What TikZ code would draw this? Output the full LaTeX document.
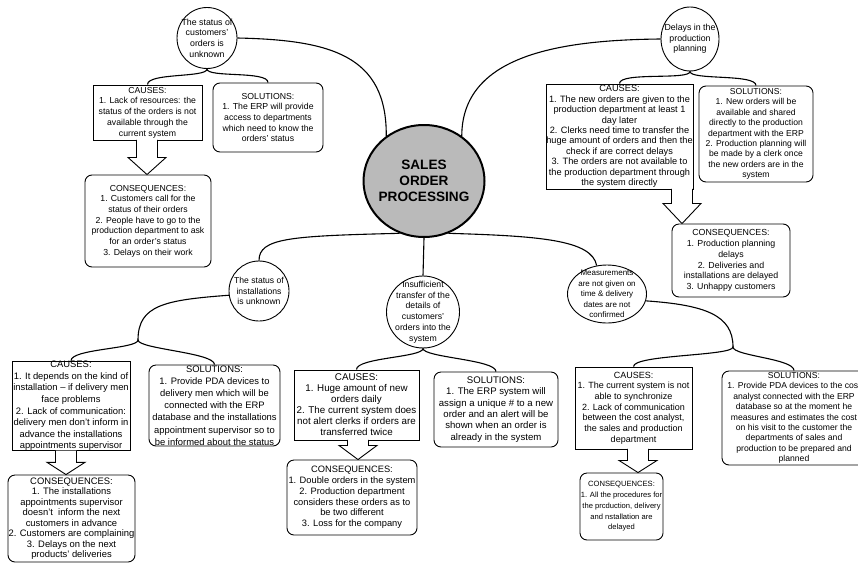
\documentclass[tikz,border=0pt]{standalone}
\usepackage{fontspec}
\setmainfont{Liberation Sans}
\usetikzlibrary{shapes.geometric,calc}

\tikzset{
  fs/.style 2 args={font=\fontsize{#1}{#2}\selectfont},
  wh/.style 2 args={minimum width=#1pt, minimum height=#2pt},
  causebox/.style={draw, line width=0.9pt, align=center, inner sep=0pt},
  solbox/.style={causebox, rounded corners=7pt},
  issue/.style={draw, ellipse, line width=0.9pt, inner sep=0pt},
  hub/.style={draw, ellipse, line width=2pt, fill=black!27, inner sep=0pt},
  link/.style={line width=1.1pt},
  fatarrow/.style={line width=0.9pt, fill=white},
}

\begin{document}
\begin{tikzpicture}[x=1pt, y=-1pt]
\clip (0,0) rectangle (858,565);

\node[hub, wh={121}{112},
      label={[align=center, font=\fontsize{13.6}{16}\selectfont\bfseries]center:SALES\\ORDER\\PROCESSING}] (core) at (424,181) {};

% the five problems
\node[issue, wh={60}{61}, label={[align=center, fs={8.8}{10.6}]center:The status of\\customers'\\orders is\\unknown}] (iss1) at (207,38) {};
\node[issue, wh={58}{64}, label={[align=center, fs={8.8}{10.5}]center:Delays in the\\production\\planning}] (iss2) at (690,39) {};
\node[issue, wh={60}{60}, label={[align=center, fs={8.6}{10.4}]center:The status of\\installations\\is unknown}] (iss3) at (259,291) {};
\node[issue, wh={73}{72}, label={[align=center, fs={8.7}{10.7}]center:Insufficient\\transfer of the\\details of\\customers'\\orders into the\\system}] (iss4) at (423,312) {};
\node[issue, wh={79}{58}, label={[align=center, fs={8}{10.6}]center:Measurements\\are not given on\\time \& delivery\\dates are not\\confirmed}] (iss5) at (607,294) {};

% top left
\node[causebox, fs={8.7}{10.7}, wh={109}{55}] (c1) at (147.5,112.5)
  {CAUSES:\\1. Lack of resources: the\\status of the orders is not\\available through the\\current system};
\node[solbox, fs={8.7}{10.7}, wh={110}{69}] (s1) at (268,117.5)
  {SOLUTIONS:\\1. The ERP will provide\\access to departments\\which need to know the\\orders' status};
\node[solbox, fs={8.7}{10.7}, wh={126}{92}] (q1) at (148,221)
  {CONSEQUENCES:\\1. Customers call for the\\status of their orders\\2. People have to go to the\\production department to ask\\for an order's status\\3. Delays on their work};

% top right
\node[causebox, fs={9.2}{10.4}, wh={147}{105}] (c2) at (619.5,136.5)
  {CAUSES:\\1. The new orders are given to the\\production department at least 1\\day later\\2. Clerks need time to transfer the\\huge amount of orders and then the\\check if are correct delays\\3. The orders are not available to\\the production department through\\the system directly};
\node[solbox, fs={8.6}{10.4}, wh={114}{96}] (s2) at (756,134)
  {SOLUTIONS:\\1. New orders will be\\available and shared\\directly to the production\\department with the ERP\\2. Production planning will\\be made by a clerk once\\the new orders are in the\\system};
\node[solbox, fs={8.8}{10.7}, wh={118}{73}] (q2) at (731,260.5)
  {CONSEQUENCES:\\1. Production planning\\delays\\2. Deliveries and\\installations are delayed\\3. Unhappy customers};

% bottom left
\node[causebox, fs={9.4}{11.6}, wh={118}{86}] (c3) at (71,406)
  {CAUSES:\\1. It depends on the kind of\\installation – if delivery men\\face problems\\2. Lack of communication:\\delivery men don't inform in\\advance the installations\\appointments supervisor};
\node[solbox, fs={9.4}{12.2}, wh={131}{81}] (s3) at (214.5,405.5)
  {SOLUTIONS:\\1. Provide PDA devices to\\delivery men which will be\\connected with the ERP\\database and the installations\\appointment supervisor so to\\be informed about the status};
\node[solbox, fs={9.4}{10.5}, wh={127}{87}] (q3) at (71.5,518.5)
  {CONSEQUENCES:\\1. The installations\\appointments supervisor\\doesn't\ \ inform the next\\customers in advance\\2. Customers are complaining\\3. Delays on the next\\products' deliveries};

% bottom middle
\node[causebox, fs={9.8}{11}, wh={125}{70}] (c4) at (356.5,405)
  {CAUSES:\\1. Huge amount of new\\orders daily\\2. The current system does\\not alert clerks if orders are\\transferred twice};
\node[solbox, fs={9.6}{11.3}, wh={124}{75}] (s4) at (496,409.5)
  {SOLUTIONS:\\1. The ERP system will\\assign a unique \# to a new\\order and an alert will be\\shown when an order is\\already in the system};
\node[solbox, fs={9.3}{10.8}, wh={130}{75}] (q4) at (352,497.5)
  {CONSEQUENCES:\\1. Double orders in the system\\2. Production department\\considers these orders as to\\be two different\\3. Loss for the company};

% bottom right
\node[causebox, fs={9}{10.7}, wh={117}{82}] (c5) at (633.5,408)
  {CAUSES:\\1. The current system is not\\able to synchronize\\2. Lack of communication\\between the cost analyst,\\the sales and production\\department};
\node[solbox, fs={8.6}{10.4}, wh={144}{94}] (s5) at (794,418)
  {SOLUTIONS:\\1. Provide PDA devices to the cost\\analyst connected with the ERP\\database so at the moment he\\measures and estimates the cost\\on his visit to the customer the\\departments of sales and\\production to be prepared and\\planned};
\node[solbox, fs={7.6}{10.8}, wh={83}{67}] (q5) at (621.5,506.5)
  {CONSEQUENCES:\\1. All the procedures for\\the prcduction, delivery\\and nstallation are\\delayed};

% links to the centre
\draw[link] (iss1.east) .. controls (330,40) and (387,55) .. (core.130);
\draw[link] (iss2.west) .. controls (560,40) and (462,55) .. (core.50);
\draw[link] (iss3.north) .. controls (259,238) and (290,236) .. (core.245);
\draw[link] (core.south) -- (iss4.north);
\draw[link] (iss5.110) .. controls (592,240) and (540,236) .. (core.295);

% splits into causes and solutions
\coordinate (b3) at (138,340);
\coordinate (b5) at (733,347);
\draw[link] (iss3.188) .. controls (165,300) and (138,305) .. (b3);
\draw[link] (iss5.350) .. controls (705,305) and (733,315) .. (b5);
\foreach \i/\a/\b in {iss1.south/c1/s1, iss2.south/c2/s2, b3/c3/s3, iss4.south/c4/s4, b5/c5/s5}
  \draw[link] (\a.north) .. controls +(0,-12) and +(0,9) .. (\i)
              .. controls +(0,9) and +(0,-12) .. (\b.north);

% causes lead to consequences
\foreach \a/\b/\x/\l in {c1/q1/147/17, c2/q2/682/14, c3/q3/66/11, c4/q4/358/5, c5/q5/638/11} {
  \coordinate (t) at (\x,0 |- \a.south);
  \coordinate (h) at (\x,0 |- \b.north);
  \draw[fatarrow] ($(t)+(-10.5,-0.6)$) -- ($(t)+(-10.5,\l)$) -- ($(t)+(-19,\l)$) -- (h)
    -- ($(t)+(19,\l)$) -- ($(t)+(10.5,\l)$) -- ($(t)+(10.5,-0.6)$);
}
\end{tikzpicture}
\end{document}
